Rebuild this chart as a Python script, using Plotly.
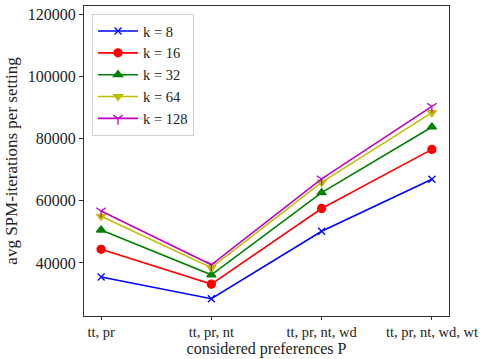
import plotly.graph_objects as go

categories = ["tt, pr", "tt, pr, nt", "tt, pr, nt, wd", "tt, pr, nt, wd, wt"]
series_names = ["k = 8", "k = 16", "k = 32", "k = 64", "k = 128"]
k8 = [35500, 28500, 50200, 66900]
k16 = [44400, 33200, 57500, 76500]
k32 = [50600, 36200, 62600, 83700]
k64 = [55000, 38500, 65900, 88300]
k128 = [56700, 39400, 67000, 90300]
yticks = [40000, 60000, 80000, 100000, 120000]

values = [k8, k16, k32, k64, k128]
colors = ["#0000ff", "#ff0000", "#008000", "#bfbf00", "#bf00bf"]
symbols = ["x-thin-open", "circle", "triangle-up", "triangle-down", "y-down-open"]
sizes = [7, 8, 8, 8, 8]

FONT = "Liberation Serif"
fig = go.Figure()
xs = list(range(len(categories)))
for name, vals, c, s, sz in zip(series_names, values, colors, symbols, sizes):
    fig.add_trace(go.Scatter(
        x=xs, y=vals, name=name, mode="lines+markers",
        line=dict(color=c, width=1.6),
        marker=dict(symbol=s, size=sz, color=c, line=dict(color=c, width=1.3)),
    ))

fig.update_layout(
    width=486, height=359,
    margin=dict(l=84, r=37, t=6, b=43),
    plot_bgcolor="white", paper_bgcolor="white",
    font=dict(family=FONT, size=15, color="#222"),
    showlegend=True,
    legend=dict(x=0.022, y=0.974, xanchor="left", yanchor="top",
                bordercolor="#d0d0d0", borderwidth=1, bgcolor="rgba(255,255,255,0.8)",
                font=dict(family=FONT, size=14.5), tracegroupgap=0, itemwidth=40),
)
fig.update_xaxes(
    tickmode="array", tickvals=xs, ticktext=categories,
    range=[-0.155, 3.155], showgrid=False, zeroline=False, automargin=False,
    showline=True, linecolor="#333", linewidth=1, mirror=True,
    ticks="outside", ticklen=3, tickcolor="#333",
    title=dict(text="considered preferences P", standoff=2, font=dict(size=16)),
    tickfont=dict(size=14.5),
)
fig.update_yaxes(
    tickmode="array", tickvals=yticks, ticktext=[str(v) for v in yticks],
    range=[22960, 122570], showgrid=False, zeroline=False, automargin=False,
    showline=True, linecolor="#333", linewidth=1, mirror=True,
    ticks="outside", ticklen=4, tickcolor="#333",
    title=dict(text="avg SPM-iterations per setting", standoff=5, font=dict(size=17)),
    tickfont=dict(size=16),
)
fig.write_html("out.html", config={"displayModeBar": False},
               post_script="document.body.style.margin='0';")
